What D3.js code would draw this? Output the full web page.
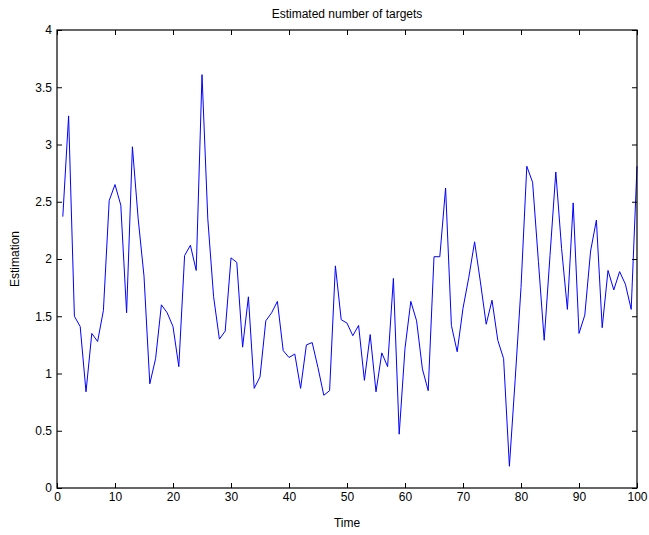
<!DOCTYPE html>
<html>
<head>
<meta charset="utf-8">
<script src="https://cdn.jsdelivr.net/npm/d3@7"></script>
<style>
  body { margin: 0; background: #fff; }
  text { font-family: "Liberation Sans", Arial, sans-serif; fill: #000; }
</style>
</head>
<body>
<svg width="649" height="535"></svg>
<script>
const titleText = "Estimated number of targets";
const xLabel = "Time";
const yLabel = "Estimation";

const xTicks = [0, 10, 20, 30, 40, 50, 60, 70, 80, 90, 100];
const yTicks = [0, 0.5, 1, 1.5, 2, 2.5, 3, 3.5, 4];

// estimate at each time step, t = 1..100
const estimates = [
  2.37, 3.25, 1.50, 1.41, 0.84, 1.35, 1.28, 1.55, 2.51, 2.65,
  2.47, 1.53, 2.98, 2.35, 1.85, 0.91, 1.13, 1.60, 1.53, 1.41,
  1.06, 2.03, 2.12, 1.90, 3.61, 2.35, 1.67, 1.30, 1.37, 2.01,
  1.97, 1.23, 1.67, 0.87, 0.97, 1.46, 1.53, 1.63, 1.20, 1.14,
  1.17, 0.87, 1.25, 1.27, 1.05, 0.81, 0.85, 1.94, 1.47, 1.44,
  1.33, 1.42, 0.94, 1.34, 0.84, 1.18, 1.06, 1.83, 0.47, 1.22,
  1.63, 1.46, 1.04, 0.85, 2.02, 2.02, 2.62, 1.42, 1.19, 1.57,
  1.84, 2.15, 1.80, 1.43, 1.64, 1.29, 1.13, 0.19, 0.95, 1.75,
  2.81, 2.67, 1.98, 1.29, 2.03, 2.76, 2.09, 1.56, 2.49, 1.35,
  1.51, 2.07, 2.34, 1.40, 1.90, 1.73, 1.89, 1.78, 1.56, 2.81
];
const times = estimates.map((d, i) => i + 1);

const svg = d3.select("svg");
const margin = { left: 57, right: 12, top: 30, bottom: 47 };
const width = +svg.attr("width");
const height = +svg.attr("height");

const x = d3.scaleLinear().domain([0, 100]).range([margin.left, width - margin.right]);
const y = d3.scaleLinear().domain([0, 4]).range([height - margin.bottom, margin.top]);

const tickLen = 5;

// data line
const line = d3.line().x((d, i) => x(times[i])).y(d => y(d));
svg.append("path")
  .datum(estimates)
  .attr("fill", "none")
  .attr("stroke", "#0000ff")
  .attr("stroke-width", 1)
  .attr("d", line);

// axes, ticks inside on all four sides
const axisStyle = (g) => {
  g.select(".domain").remove();
  g.selectAll("line").attr("stroke", "#000");
  g.selectAll("text").attr("font-size", 12);
};

svg.append("g")
  .attr("transform", `translate(0,${y(0)})`)
  .call(d3.axisBottom(x).tickValues(xTicks).tickSize(-tickLen).tickPadding(4).tickFormat(d3.format("d")))
  .call(axisStyle);

svg.append("g")
  .attr("transform", `translate(0,${y(4)})`)
  .call(d3.axisTop(x).tickValues(xTicks).tickSize(-tickLen).tickFormat(""))
  .call(axisStyle);

svg.append("g")
  .attr("transform", `translate(${x(0)},0)`)
  .call(d3.axisLeft(y).tickValues(yTicks).tickSize(-tickLen).tickPadding(5).tickFormat(d3.format("")))
  .call(axisStyle);

svg.append("g")
  .attr("transform", `translate(${x(100)},0)`)
  .call(d3.axisRight(y).tickValues(yTicks).tickSize(-tickLen).tickFormat(""))
  .call(axisStyle);

svg.append("rect")
  .attr("x", x(0)).attr("y", y(4))
  .attr("width", x(100) - x(0)).attr("height", y(0) - y(4))
  .attr("fill", "none").attr("stroke", "#000").attr("stroke-width", 1.2);

svg.append("text")
  .attr("x", (x(0) + x(100)) / 2).attr("y", 18)
  .attr("text-anchor", "middle").attr("font-size", 12)
  .text(titleText);

svg.append("text")
  .attr("x", (x(0) + x(100)) / 2).attr("y", 527)
  .attr("text-anchor", "middle").attr("font-size", 12)
  .text(xLabel);

svg.append("text")
  .attr("transform", `translate(19,${(y(0) + y(4)) / 2}) rotate(-90)`)
  .attr("text-anchor", "middle").attr("font-size", 12)
  .text(yLabel);
</script>
</body>
</html>
